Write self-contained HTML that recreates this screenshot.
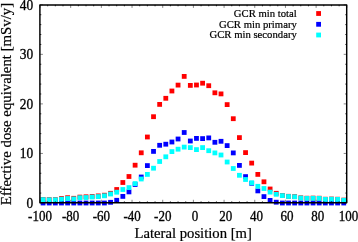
<!DOCTYPE html>
<html><head><meta charset="utf-8"><style>
html,body{margin:0;padding:0;background:#fff;}
body{width:358px;height:242px;overflow:hidden;}
svg{display:block;will-change:transform;}
text{font-family:"Liberation Serif",serif;fill:#000;}
</style></head><body>
<svg width="358" height="242" viewBox="0 0 358 242">
<rect width="358" height="242" fill="#fff"/>
<g fill="#ff0000"><rect x="40.67" y="197.00" width="4.8" height="4.8"/><rect x="46.80" y="197.20" width="4.8" height="4.8"/><rect x="52.94" y="197.20" width="4.8" height="4.8"/><rect x="59.08" y="196.10" width="4.8" height="4.8"/><rect x="65.21" y="195.30" width="4.8" height="4.8"/><rect x="71.35" y="195.90" width="4.8" height="4.8"/><rect x="77.48" y="194.70" width="4.8" height="4.8"/><rect x="83.62" y="194.40" width="4.8" height="4.8"/><rect x="89.76" y="194.00" width="4.8" height="4.8"/><rect x="95.89" y="193.50" width="4.8" height="4.8"/><rect x="102.03" y="192.80" width="4.8" height="4.8"/><rect x="108.16" y="190.90" width="4.8" height="4.8"/><rect x="114.30" y="187.10" width="4.8" height="4.8"/><rect x="120.44" y="180.10" width="4.8" height="4.8"/><rect x="126.57" y="174.10" width="4.8" height="4.8"/><rect x="132.71" y="162.80" width="4.8" height="4.8"/><rect x="138.84" y="150.40" width="4.8" height="4.8"/><rect x="144.98" y="134.60" width="4.8" height="4.8"/><rect x="151.12" y="114.30" width="4.8" height="4.8"/><rect x="157.25" y="102.00" width="4.8" height="4.8"/><rect x="163.39" y="95.90" width="4.8" height="4.8"/><rect x="169.52" y="88.60" width="4.8" height="4.8"/><rect x="175.66" y="82.70" width="4.8" height="4.8"/><rect x="181.80" y="74.00" width="4.8" height="4.8"/><rect x="187.93" y="83.00" width="4.8" height="4.8"/><rect x="194.07" y="82.60" width="4.8" height="4.8"/><rect x="200.20" y="80.80" width="4.8" height="4.8"/><rect x="206.34" y="83.30" width="4.8" height="4.8"/><rect x="212.48" y="90.40" width="4.8" height="4.8"/><rect x="218.61" y="91.50" width="4.8" height="4.8"/><rect x="224.75" y="102.20" width="4.8" height="4.8"/><rect x="230.88" y="116.30" width="4.8" height="4.8"/><rect x="237.02" y="135.20" width="4.8" height="4.8"/><rect x="243.16" y="150.20" width="4.8" height="4.8"/><rect x="249.29" y="160.70" width="4.8" height="4.8"/><rect x="255.43" y="172.00" width="4.8" height="4.8"/><rect x="261.56" y="179.40" width="4.8" height="4.8"/><rect x="267.70" y="186.60" width="4.8" height="4.8"/><rect x="273.84" y="190.90" width="4.8" height="4.8"/><rect x="279.97" y="193.00" width="4.8" height="4.8"/><rect x="286.11" y="193.90" width="4.8" height="4.8"/><rect x="292.24" y="194.20" width="4.8" height="4.8"/><rect x="298.38" y="195.40" width="4.8" height="4.8"/><rect x="304.52" y="195.80" width="4.8" height="4.8"/><rect x="310.65" y="195.70" width="4.8" height="4.8"/><rect x="316.79" y="195.80" width="4.8" height="4.8"/><rect x="322.92" y="196.80" width="4.8" height="4.8"/><rect x="329.06" y="196.60" width="4.8" height="4.8"/><rect x="335.20" y="196.80" width="4.8" height="4.8"/><rect x="341.33" y="197.70" width="4.8" height="4.8"/></g>
<g fill="#0000ff"><rect x="40.67" y="200.60" width="4.8" height="4.8"/><rect x="46.80" y="200.60" width="4.8" height="4.8"/><rect x="52.94" y="200.60" width="4.8" height="4.8"/><rect x="59.08" y="200.60" width="4.8" height="4.8"/><rect x="65.21" y="200.60" width="4.8" height="4.8"/><rect x="71.35" y="200.60" width="4.8" height="4.8"/><rect x="77.48" y="200.60" width="4.8" height="4.8"/><rect x="83.62" y="200.60" width="4.8" height="4.8"/><rect x="89.76" y="200.60" width="4.8" height="4.8"/><rect x="95.89" y="200.60" width="4.8" height="4.8"/><rect x="102.03" y="200.60" width="4.8" height="4.8"/><rect x="108.16" y="199.90" width="4.8" height="4.8"/><rect x="114.30" y="197.90" width="4.8" height="4.8"/><rect x="120.44" y="194.00" width="4.8" height="4.8"/><rect x="126.57" y="189.50" width="4.8" height="4.8"/><rect x="132.71" y="182.10" width="4.8" height="4.8"/><rect x="138.84" y="174.60" width="4.8" height="4.8"/><rect x="144.98" y="163.20" width="4.8" height="4.8"/><rect x="151.12" y="149.00" width="4.8" height="4.8"/><rect x="157.25" y="142.90" width="4.8" height="4.8"/><rect x="163.39" y="141.80" width="4.8" height="4.8"/><rect x="169.52" y="139.60" width="4.8" height="4.8"/><rect x="175.66" y="136.60" width="4.8" height="4.8"/><rect x="181.80" y="130.10" width="4.8" height="4.8"/><rect x="187.93" y="138.60" width="4.8" height="4.8"/><rect x="194.07" y="136.00" width="4.8" height="4.8"/><rect x="200.20" y="136.20" width="4.8" height="4.8"/><rect x="206.34" y="135.50" width="4.8" height="4.8"/><rect x="212.48" y="139.90" width="4.8" height="4.8"/><rect x="218.61" y="138.90" width="4.8" height="4.8"/><rect x="224.75" y="143.20" width="4.8" height="4.8"/><rect x="230.88" y="150.50" width="4.8" height="4.8"/><rect x="237.02" y="163.00" width="4.8" height="4.8"/><rect x="243.16" y="174.20" width="4.8" height="4.8"/><rect x="249.29" y="180.90" width="4.8" height="4.8"/><rect x="255.43" y="188.50" width="4.8" height="4.8"/><rect x="261.56" y="194.20" width="4.8" height="4.8"/><rect x="267.70" y="198.00" width="4.8" height="4.8"/><rect x="273.84" y="199.80" width="4.8" height="4.8"/><rect x="279.97" y="200.60" width="4.8" height="4.8"/><rect x="286.11" y="200.60" width="4.8" height="4.8"/><rect x="292.24" y="200.60" width="4.8" height="4.8"/><rect x="298.38" y="200.60" width="4.8" height="4.8"/><rect x="304.52" y="200.60" width="4.8" height="4.8"/><rect x="310.65" y="200.60" width="4.8" height="4.8"/><rect x="316.79" y="200.60" width="4.8" height="4.8"/><rect x="322.92" y="200.60" width="4.8" height="4.8"/><rect x="329.06" y="200.60" width="4.8" height="4.8"/><rect x="335.20" y="200.60" width="4.8" height="4.8"/><rect x="341.33" y="200.60" width="4.8" height="4.8"/></g>
<g fill="#00ffff"><rect x="40.67" y="197.20" width="4.8" height="4.8"/><rect x="46.80" y="197.40" width="4.8" height="4.8"/><rect x="52.94" y="197.40" width="4.8" height="4.8"/><rect x="59.08" y="196.80" width="4.8" height="4.8"/><rect x="65.21" y="196.10" width="4.8" height="4.8"/><rect x="71.35" y="196.50" width="4.8" height="4.8"/><rect x="77.48" y="195.30" width="4.8" height="4.8"/><rect x="83.62" y="195.10" width="4.8" height="4.8"/><rect x="89.76" y="194.60" width="4.8" height="4.8"/><rect x="95.89" y="194.20" width="4.8" height="4.8"/><rect x="102.03" y="193.40" width="4.8" height="4.8"/><rect x="108.16" y="191.60" width="4.8" height="4.8"/><rect x="114.30" y="189.80" width="4.8" height="4.8"/><rect x="120.44" y="187.10" width="4.8" height="4.8"/><rect x="126.57" y="185.20" width="4.8" height="4.8"/><rect x="132.71" y="181.20" width="4.8" height="4.8"/><rect x="138.84" y="176.60" width="4.8" height="4.8"/><rect x="144.98" y="172.00" width="4.8" height="4.8"/><rect x="151.12" y="165.80" width="4.8" height="4.8"/><rect x="157.25" y="159.10" width="4.8" height="4.8"/><rect x="163.39" y="154.40" width="4.8" height="4.8"/><rect x="169.52" y="149.20" width="4.8" height="4.8"/><rect x="175.66" y="146.80" width="4.8" height="4.8"/><rect x="181.80" y="144.70" width="4.8" height="4.8"/><rect x="187.93" y="145.20" width="4.8" height="4.8"/><rect x="194.07" y="147.20" width="4.8" height="4.8"/><rect x="200.20" y="145.20" width="4.8" height="4.8"/><rect x="206.34" y="148.30" width="4.8" height="4.8"/><rect x="212.48" y="150.50" width="4.8" height="4.8"/><rect x="218.61" y="152.60" width="4.8" height="4.8"/><rect x="224.75" y="159.60" width="4.8" height="4.8"/><rect x="230.88" y="166.10" width="4.8" height="4.8"/><rect x="237.02" y="172.90" width="4.8" height="4.8"/><rect x="243.16" y="177.10" width="4.8" height="4.8"/><rect x="249.29" y="180.40" width="4.8" height="4.8"/><rect x="255.43" y="183.90" width="4.8" height="4.8"/><rect x="261.56" y="186.10" width="4.8" height="4.8"/><rect x="267.70" y="189.70" width="4.8" height="4.8"/><rect x="273.84" y="191.90" width="4.8" height="4.8"/><rect x="279.97" y="193.20" width="4.8" height="4.8"/><rect x="286.11" y="194.10" width="4.8" height="4.8"/><rect x="292.24" y="194.40" width="4.8" height="4.8"/><rect x="298.38" y="195.60" width="4.8" height="4.8"/><rect x="304.52" y="196.00" width="4.8" height="4.8"/><rect x="310.65" y="195.90" width="4.8" height="4.8"/><rect x="316.79" y="196.00" width="4.8" height="4.8"/><rect x="322.92" y="197.00" width="4.8" height="4.8"/><rect x="329.06" y="196.80" width="4.8" height="4.8"/><rect x="335.20" y="197.00" width="4.8" height="4.8"/><rect x="341.33" y="197.90" width="4.8" height="4.8"/></g>
<path d="M40.00 202.8v-3.0M40.00 4.9v3.0M70.68 202.8v-3.0M70.68 4.9v3.0M101.36 202.8v-3.0M101.36 4.9v3.0M132.04 202.8v-3.0M132.04 4.9v3.0M162.72 202.8v-3.0M162.72 4.9v3.0M193.40 202.8v-3.0M193.40 4.9v3.0M224.08 202.8v-3.0M224.08 4.9v3.0M254.76 202.8v-3.0M254.76 4.9v3.0M285.44 202.8v-3.0M285.44 4.9v3.0M316.12 202.8v-3.0M316.12 4.9v3.0M346.80 202.8v-3.0M346.80 4.9v3.0M39.9 203.00h3.0M346.7 203.00h-3.0M39.9 153.45h3.0M346.7 153.45h-3.0M39.9 103.90h3.0M346.7 103.90h-3.0M39.9 54.35h3.0M346.7 54.35h-3.0M39.9 4.80h3.0M346.7 4.80h-3.0" stroke="#222" stroke-width="0.55" fill="none"/>
<path d="M47.67 202.8v-1.4M47.67 4.9v1.4M55.34 202.8v-1.4M55.34 4.9v1.4M63.01 202.8v-1.4M63.01 4.9v1.4M78.35 202.8v-1.4M78.35 4.9v1.4M86.02 202.8v-1.4M86.02 4.9v1.4M93.69 202.8v-1.4M93.69 4.9v1.4M109.03 202.8v-1.4M109.03 4.9v1.4M116.70 202.8v-1.4M116.70 4.9v1.4M124.37 202.8v-1.4M124.37 4.9v1.4M139.71 202.8v-1.4M139.71 4.9v1.4M147.38 202.8v-1.4M147.38 4.9v1.4M155.05 202.8v-1.4M155.05 4.9v1.4M170.39 202.8v-1.4M170.39 4.9v1.4M178.06 202.8v-1.4M178.06 4.9v1.4M185.73 202.8v-1.4M185.73 4.9v1.4M201.07 202.8v-1.4M201.07 4.9v1.4M208.74 202.8v-1.4M208.74 4.9v1.4M216.41 202.8v-1.4M216.41 4.9v1.4M231.75 202.8v-1.4M231.75 4.9v1.4M239.42 202.8v-1.4M239.42 4.9v1.4M247.09 202.8v-1.4M247.09 4.9v1.4M262.43 202.8v-1.4M262.43 4.9v1.4M270.10 202.8v-1.4M270.10 4.9v1.4M277.77 202.8v-1.4M277.77 4.9v1.4M293.11 202.8v-1.4M293.11 4.9v1.4M300.78 202.8v-1.4M300.78 4.9v1.4M308.45 202.8v-1.4M308.45 4.9v1.4M323.79 202.8v-1.4M323.79 4.9v1.4M331.46 202.8v-1.4M331.46 4.9v1.4M339.13 202.8v-1.4M339.13 4.9v1.4M39.9 193.09h1.4M346.7 193.09h-1.4M39.9 183.18h1.4M346.7 183.18h-1.4M39.9 173.27h1.4M346.7 173.27h-1.4M39.9 163.36h1.4M346.7 163.36h-1.4M39.9 143.54h1.4M346.7 143.54h-1.4M39.9 133.63h1.4M346.7 133.63h-1.4M39.9 123.72h1.4M346.7 123.72h-1.4M39.9 113.81h1.4M346.7 113.81h-1.4M39.9 93.99h1.4M346.7 93.99h-1.4M39.9 84.08h1.4M346.7 84.08h-1.4M39.9 74.17h1.4M346.7 74.17h-1.4M39.9 64.26h1.4M346.7 64.26h-1.4M39.9 44.44h1.4M346.7 44.44h-1.4M39.9 34.53h1.4M346.7 34.53h-1.4M39.9 24.62h1.4M346.7 24.62h-1.4M39.9 14.71h1.4M346.7 14.71h-1.4" stroke="#000" stroke-width="0.8" fill="none"/>
<rect x="39.9" y="4.9" width="306.80" height="197.90" fill="none" stroke="#000" stroke-width="1.45" stroke-linejoin="round"/>
<g font-size="13" stroke="#000" stroke-width="0.3"><text transform="translate(40.00 220.5) scale(1 1.07)" text-anchor="middle">-100</text><text transform="translate(70.68 220.5) scale(1 1.07)" text-anchor="middle">-80</text><text transform="translate(101.36 220.5) scale(1 1.07)" text-anchor="middle">-60</text><text transform="translate(132.04 220.5) scale(1 1.07)" text-anchor="middle">-40</text><text transform="translate(162.72 220.5) scale(1 1.07)" text-anchor="middle">-20</text><text transform="translate(193.40 220.5) scale(1 1.07)" text-anchor="middle"> 0</text><text transform="translate(224.08 220.5) scale(1 1.07)" text-anchor="middle"> 20</text><text transform="translate(254.76 220.5) scale(1 1.07)" text-anchor="middle"> 40</text><text transform="translate(285.44 220.5) scale(1 1.07)" text-anchor="middle"> 60</text><text transform="translate(316.12 220.5) scale(1 1.07)" text-anchor="middle"> 80</text><text transform="translate(346.80 220.5) scale(1 1.07)" text-anchor="middle"> 100</text><text transform="translate(33.2 207.95) scale(1.03 1.1)" text-anchor="end">0</text><text transform="translate(33.2 158.40) scale(1.03 1.1)" text-anchor="end">10</text><text transform="translate(33.2 108.85) scale(1.03 1.1)" text-anchor="end">20</text><text transform="translate(33.2 59.30) scale(1.03 1.1)" text-anchor="end">30</text><text transform="translate(33.2 9.75) scale(1.03 1.1)" text-anchor="end">40</text></g>
<text transform="translate(193.2 238.3) scale(1.02 0.95)" font-size="14.4" text-anchor="middle" stroke="#000" stroke-width="0.2">Lateral position [m]</text>
<text transform="translate(10.8 104) rotate(-90)" font-size="14.8" text-anchor="middle" stroke="#000" stroke-width="0.2">Effective dose equivalent [mSv/y]</text>
<g font-size="10.7" text-anchor="end" stroke="#000" stroke-width="0.2">
<text x="296.8" y="17.3">GCR min total</text>
<text x="296.8" y="27.6">GCR min primary</text>
<text x="296.8" y="38">GCR min secondary</text>
</g>
<rect x="316.2" y="11.1" width="4.8" height="4.8" fill="#ff0000"/>
<rect x="316.2" y="21.9" width="4.8" height="4.8" fill="#0000ff"/>
<rect x="316.2" y="32.6" width="4.8" height="4.8" fill="#00ffff"/>
</svg>
</body></html>
